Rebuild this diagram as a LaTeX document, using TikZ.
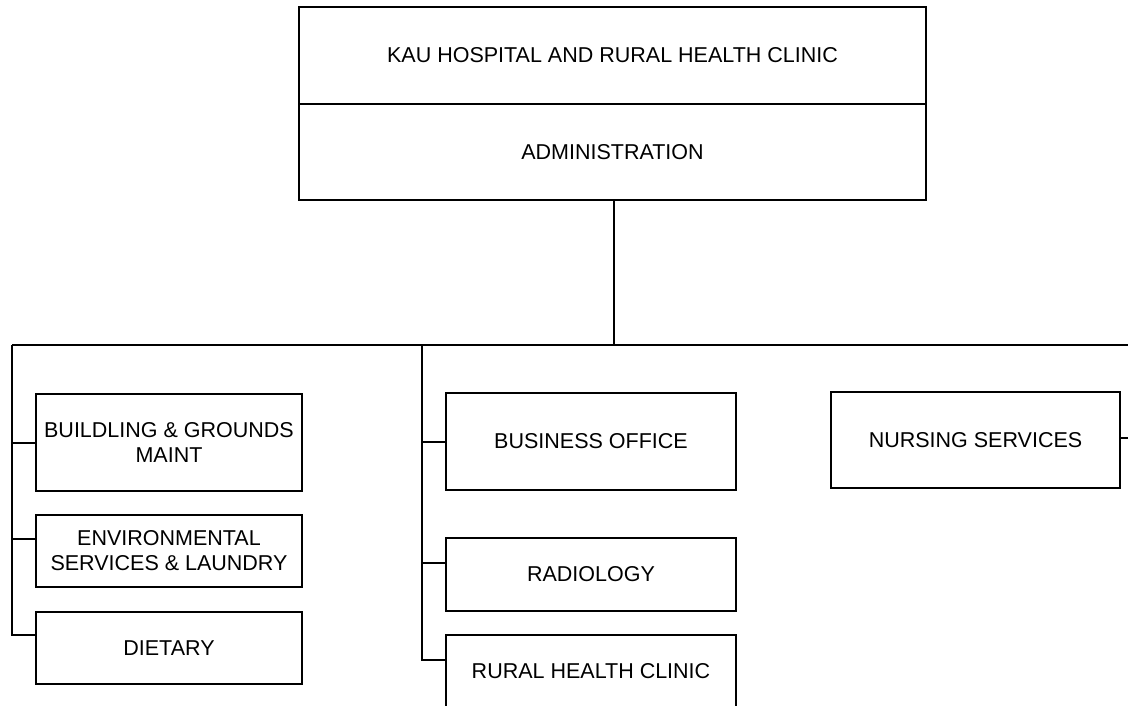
\documentclass[tikz,border=0pt]{standalone}
\usepackage{fontspec}
\setmainfont{Liberation Sans}
\usetikzlibrary{positioning}

\begin{document}
\begin{tikzpicture}[x=1pt,y=-1pt]
	\tikzstyle{unit}=[draw,line width=2pt,outer sep=0pt,align=center,inner sep=0pt,font=\fontsize{21.5}{25}\selectfont]
	\tikzstyle{wire}=[line width=2pt]

	\clip (0,0) rectangle (1128,705);

	\node[unit,minimum width=627pt,minimum height=97pt] (hosp) at (612.5,55.5) {KAU HOSPITAL AND RURAL HEALTH CLINIC};
	\node[unit,minimum width=627pt,minimum height=96pt,below=0pt of hosp] (admin) {ADMINISTRATION};

	\node[unit,minimum width=266pt,minimum height=97pt] (bldg) at (169,442.5) {BUILDLING \& GROUNDS\\MAINT};
	\node[unit,minimum width=266pt,minimum height=72pt] (env) at (169,551) {ENVIRONMENTAL\\SERVICES \& LAUNDRY};
	\node[unit,minimum width=266pt,minimum height=72pt] (diet) at (169,648) {DIETARY};

	\node[unit,minimum width=290pt,minimum height=97pt] (biz) at (591,441.5) {BUSINESS OFFICE};
	\node[unit,minimum width=290pt,minimum height=73pt] (rad) at (591,574.5) {RADIOLOGY};
	\node[unit,minimum width=290pt,minimum height=73pt] (rhc) at (591,671.5) {RURAL HEALTH CLINIC};

	\node[unit,minimum width=289pt,minimum height=96pt] (nurs) at (975.5,440) {NURSING SERVICES};

	\coordinate (lft) at (12,345);
	\coordinate (mid) at (422,345);
	\coordinate (rgt) at (1140,345);
	\coordinate (envin) at ([yshift=12pt]env.west);
	\coordinate (dietin) at ([yshift=13pt]diet.west);
	\coordinate (radin) at ([yshift=12pt]rad.west);
	\coordinate (rhcin) at ([yshift=12pt]rhc.west);
	\coordinate (nursout) at ([xshift=12pt,yshift=2pt]nurs.east);

	\draw[wire] ([xshift=1.5pt]admin.south) -- ([xshift=1.5pt]admin.south |- lft);
	\draw[wire] (lft) -- (rgt);
	\draw[wire] (lft) |- (dietin);
	\draw[wire] (lft |- bldg.west) -- (bldg.west);
	\draw[wire] (lft |- envin) -- (envin);
	\draw[wire] (mid) |- (rhcin);
	\draw[wire] (mid |- biz.west) -- (biz.west);
	\draw[wire] (mid |- radin) -- (radin);
	\draw[wire] ([yshift=2pt]nurs.east) -- (nursout);
\end{tikzpicture}
\end{document}
